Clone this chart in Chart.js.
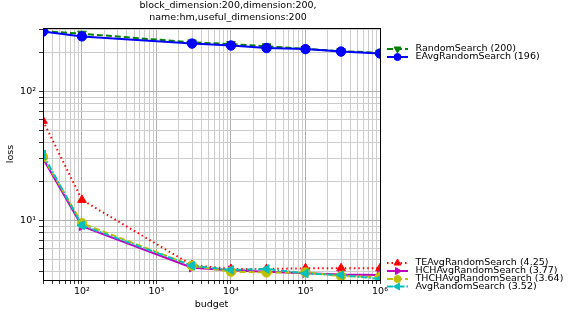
<!DOCTYPE html>
<html>
<head>
<meta charset="utf-8">
<script src="https://cdn.jsdelivr.net/npm/chart.js@4/dist/chart.umd.min.js"></script>
<style>
  html, body { margin: 0; padding: 0; background: #fff; }
  #wrap { width: 574px; height: 316px; }
</style>
</head>
<body>
<div id="wrap"><canvas id="lossChart" width="574" height="316"></canvas></div>
<script>
// budgets (x axis, log)
const budgets = [30, 100, 3000, 10000, 30000, 100000, 300000, 1000000];

// loss per method
const randomSearch = [292, 279, 239, 232, 223, 213, 204, 199];
const eAvgRandomSearch = [290, 266, 234, 226, 216, 212, 203, 196];
const teAvgRandomSearch = [59, 14.4, 4.5, 4.2, 4.2, 4.25, 4.25, 4.25];
const hchAvgRandomSearch = [30.2, 9.0, 4.3, 4.1, 4.0, 3.9, 3.8, 3.77];
const thchAvgRandomSearch = [31, 9.5, 4.45, 4.0, 3.95, 3.95, 3.7, 3.64];
const avgRandomSearch = [32.4, 9.15, 4.45, 4.13, 4.2, 3.88, 3.77, 3.52];

const titleLines = ['block_dimension:200,dimension:200,', 'name:hm,useful_dimensions:200'];
const legendTop = ['RandomSearch (200)', 'EAvgRandomSearch (196)'];
const legendBottom = ['TEAvgRandomSearch (4.25)', 'HCHAvgRandomSearch (3.77)', 'THCHAvgRandomSearch (3.64)', 'AvgRandomSearch (3.52)'];

const FONT = '"DejaVu Sans", sans-serif';
const FS = 9.5;

// log tick positions 1..9 x 10^n inside range
function logTicks(min, max) {
    const out = [];
    for (let e = Math.floor(Math.log10(min)); e <= Math.ceil(Math.log10(max)); e++) {
        for (let m = 1; m < 10; m++) {
            const v = m * Math.pow(10, e);
            if (v >= min * 0.9999 && v <= max * 1.0001) out.push({ value: v });
        }
    }
    return out;
}
function isPow10(v) {
    const l = Math.log10(v);
    return Math.abs(l - Math.round(l)) < 1e-9;
}
const sup = { '0': '⁰', '1': '¹', '2': '²', '3': '³', '4': '⁴', '5': '⁵', '6': '⁶', '-': '⁻' };
function powLabel(v) {
    if (!isPow10(v)) return '';
    const e = String(Math.round(Math.log10(v)));
    return '10' + e.split('').map(c => sup[c]).join('');
}

function makeSet(label, data, color, dash, style, rot) {
    return {
        label: label,
        data: data,
        borderColor: color,
        backgroundColor: color,
        borderWidth: 2,
        borderDash: dash,
        pointStyle: style,
        pointRotation: rot,
        pointRadius: style === 'circle' ? 4.7 : 5,
        pointBorderWidth: 1,
        tension: 0
    };
}

const datasets = [
    makeSet(legendTop[0], randomSearch, 'rgb(0,128,0)', [6, 3], 'triangle', 180),
    makeSet(legendTop[1], eAvgRandomSearch, 'rgb(0,0,255)', [], 'circle', 0),
    makeSet(legendBottom[0], teAvgRandomSearch, 'rgb(255,0,0)', [1.5, 3], 'triangle', 0),
    makeSet(legendBottom[1], hchAvgRandomSearch, 'rgb(191,0,191)', [], 'triangle', 90),
    makeSet(legendBottom[2], thchAvgRandomSearch, 'rgb(191,191,0)', [6, 3], 'circle', 0),
    makeSet(legendBottom[3], avgRandomSearch, 'rgb(0,191,191)', [6, 2, 1.5, 2], 'triangle', 270)
];
// later series on top, like the original
datasets.forEach((d, i) => { d.order = datasets.length - i; });

// title, frame and the two legend boxes
const decorations = {
    id: 'decorations',
    afterDraw(chart) {
        const c = chart.ctx;
        const a = chart.chartArea;
        c.save();
        c.strokeStyle = '#000';
        c.lineWidth = 1;
        c.strokeRect(Math.round(a.left) + 0.5, Math.round(a.top) + 0.5, Math.round(a.right - a.left), Math.round(a.bottom - a.top));

        c.fillStyle = '#000';
        c.font = FS + 'px ' + FONT;
        c.textAlign = 'center';
        c.textBaseline = 'middle';
        c.fillText(titleLines[0], 228, 6);
        c.fillText(titleLines[1], 228, 18);

        const drawItem = (ds, y) => {
            const x0 = 387, x1 = 408;
            c.strokeStyle = ds.borderColor;
            c.fillStyle = ds.backgroundColor;
            c.lineWidth = 2;
            c.setLineDash(ds.borderDash);
            c.beginPath();
            c.moveTo(x0, y);
            c.lineTo(x1, y);
            c.stroke();
            c.setLineDash([]);
            c.lineWidth = 1;
            Chart.helpers.drawPoint(c, {
                pointStyle: ds.pointStyle,
                rotation: ds.pointRotation,
                radius: ds.pointStyle === 'circle' ? 3.5 : 4,
                borderWidth: 1
            }, (x0 + x1) / 2, y);
            c.fillStyle = '#000';
            c.font = FS + 'px ' + FONT;
            c.textAlign = 'left';
            c.textBaseline = 'middle';
            c.fillText(ds.label, 415.5, y);
        };
        const sets = chart.data.datasets;
        [49, 57].forEach((y, i) => drawItem(sets[i], y));
        [263, 271, 279, 286.5].forEach((y, i) => drawItem(sets[i + 2], y));
        c.restore();
    }
};

const ctx = document.getElementById('lossChart').getContext('2d');
const chart = new Chart(ctx, {
    type: 'line',
    data: { datasets: datasets.map(d => ({ ...d, data: d.data.map((v, i) => ({ x: budgets[i], y: v })) })) },
    options: {
        responsive: false,
        animation: false,
        devicePixelRatio: 1,
        layout: { padding: { top: 28, right: 194, left: 0, bottom: 0 } },
        plugins: {
            legend: { display: false },
            title: { display: false },
            tooltip: { enabled: false }
        },
        scales: {
            x: {
                type: 'logarithmic',
                min: 30,
                max: 1000000,
                afterFit: s => { s.height = 36; },
                afterBuildTicks: s => { s.ticks = logTicks(30, 1000000); },
                grid: {
                    color: c => isPow10(c.tick.value) ? '#b0b0b0' : '#cccccc',
                    tickColor: '#333',
                    tickLength: 4,
                    lineWidth: 1
                },
                border: { display: true, color: '#000' },
                ticks: {
                    autoSkip: false,
                    maxRotation: 0,
                    padding: 2,
                    color: '#000',
                    font: { family: FONT, size: FS },
                    callback: v => powLabel(v)
                },
                title: {
                    display: true,
                    text: 'budget',
                    color: '#000',
                    font: { family: FONT, size: FS },
                    padding: { top: 0, bottom: 6 }
                }
            },
            y: {
                type: 'logarithmic',
                min: 3.45,
                max: 309,
                afterFit: s => { s.width = 43; },
                afterBuildTicks: s => { s.ticks = logTicks(3.45, 309); },
                grid: {
                    color: c => isPow10(c.tick.value) ? '#b0b0b0' : '#cccccc',
                    tickColor: '#333',
                    tickLength: 4,
                    lineWidth: 1
                },
                border: { display: true, color: '#000' },
                ticks: {
                    autoSkip: false,
                    padding: 3,
                    color: '#000',
                    font: { family: FONT, size: FS },
                    callback: v => powLabel(v)
                },
                title: {
                    display: true,
                    text: 'loss',
                    color: '#000',
                    font: { family: FONT, size: FS },
                    padding: { top: 5, bottom: 0 }
                }
            }
        }
    },
    plugins: [decorations]
});
</script>
</body>
</html>
